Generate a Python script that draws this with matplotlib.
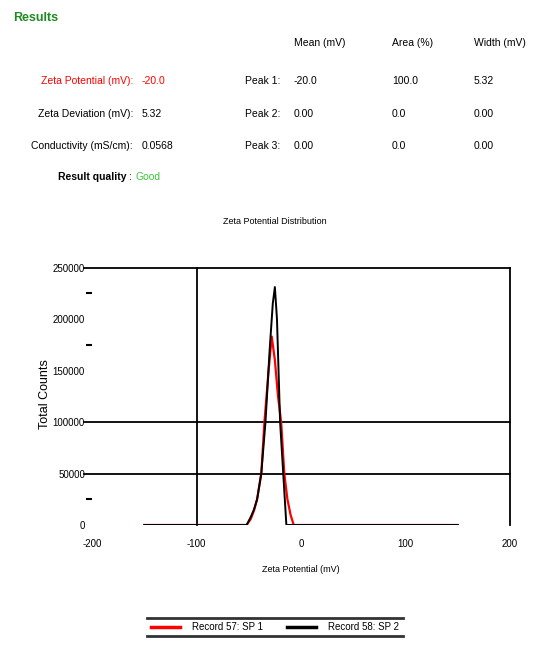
import numpy as np
import matplotlib.pyplot as plt
from matplotlib.lines import Line2D

plt.rcParams['font.family'] = ['Liberation Sans', 'DejaVu Sans']

# summary values
summary_labels = ["Zeta Potential (mV):", "Zeta Deviation (mV):", "Conductivity (mS/cm):"]
summary_values = ["-20.0", "5.32", "0.0568"]
quality = "Good"

peak_names = ["Peak 1:", "Peak 2:", "Peak 3:"]
peak_mean = ["-20.0", "0.00", "0.00"]
peak_area = ["100.0", "0.0", "0.0"]
peak_width = ["5.32", "0.00", "0.00"]
col_heads = ["Mean (mV)", "Area (%)", "Width (mV)"]

# distribution curves
rec1_name = "Record 57: SP 1"
rec1_x = [-150, -52, -48, -45, -42, -38, -35, -31, -28, -25, -22, -19, -16, -13, -10, -7, 150]
rec1_y = [0, 0, 6000, 14000, 25000, 50000, 100000, 150000, 183000, 160000, 125000,
          100000, 50000, 25000, 10000, 0, 0]

rec2_name = "Record 58: SP 2"
rec2_x = [-150, -52, -48, -45, -42, -38, -34, -30, -27, -25, -23, -20, -17, -14, 150]
rec2_y = [0, 0, 8000, 15000, 25000, 50000, 100000, 170000, 215000, 231000, 200000,
          100000, 50000, 0, 0]

x_ticks = [-200, -100, 0, 100, 200]
y_ticks = [0, 50000, 100000, 150000, 200000, 250000]

W, H = 547, 648
fig = plt.figure(figsize=(W / 100, H / 100), dpi=100)

def px(x, y):
    return x / W, 1 - y / H

fs = 7.5
fig.text(*px(13, 18), "Results", color="#1f8a1f", fontsize=9, fontweight="bold", va="center")

hx = [294, 392, 474]
for x, t in zip(hx, col_heads):
    fig.text(*px(x, 43), t, fontsize=fs, va="center")

rows_y = [81, 114, 146]
for i, y in enumerate(rows_y):
    c = "red" if i == 0 else "black"
    fig.text(*px(133, y), summary_labels[i], fontsize=fs, color=c, ha="right", va="center")
    fig.text(*px(142, y), summary_values[i], fontsize=fs, color=c, va="center")
    fig.text(*px(280, y), peak_names[i], fontsize=fs, ha="right", va="center")
    fig.text(*px(hx[0], y), peak_mean[i], fontsize=fs, va="center")
    fig.text(*px(hx[1], y), peak_area[i], fontsize=fs, va="center")
    fig.text(*px(hx[2], y), peak_width[i], fontsize=fs, va="center")

fig.text(*px(126, 177), "Result quality", fontsize=fs, fontweight="bold", ha="right", va="center")
fig.text(*px(129, 177), ":", fontsize=fs, va="center")
fig.text(*px(136, 177), quality, fontsize=fs, color="#3cc43c", va="center")

fig.text(*px(275, 222), "Zeta Potential Distribution", fontsize=6.5, ha="center", va="center")

ax = fig.add_axes([92 / W, 1 - 525 / H, (510 - 92) / W, (525 - 267.5) / H])
ax.set_xlim(-200, 200)
ax.set_ylim(0, 250000)
for s in ax.spines.values():
    s.set_visible(False)

# grid lines that show in the report
for yv in [50000, 100000, 250000]:
    ax.plot([-208, 200], [yv, yv], color="black", lw=1.3, clip_on=False)
for xv in [-100, 200]:
    ax.plot([xv, xv], [0, 250000], color="black", lw=1.3, clip_on=False)

ax.plot(rec1_x, rec1_y, color="red", lw=1.6, label=rec1_name)
ax.plot(rec2_x, rec2_y, color="black", lw=1.4, label=rec2_name)

ax.set_xticks(x_ticks)
ax.set_xticklabels([str(v) for v in x_ticks])
ax.set_yticks(y_ticks)
ax.set_yticklabels([str(v) for v in y_ticks])
ax.set_yticks([25000, 175000, 225000], minor=True)
ax.tick_params(axis="both", which="major", length=0, labelsize=7)
ax.tick_params(axis="x", which="major", pad=10)
ax.tick_params(axis="y", which="major", pad=5)
ax.tick_params(axis="y", which="minor", length=4, width=1.5, direction="out")

ax.set_xlabel("Zeta Potential (mV)", fontsize=6.5)
ax.xaxis.set_label_coords(0.5, -(565 - 525) / 257.5)
ax.set_ylabel("Total Counts", fontsize=9, va="center")
ax.yaxis.set_label_coords(-(92 - 45) / 418, (525 - 394) / 257.5)

leg = fig.legend(loc="center", bbox_to_anchor=px(275, 627),
                 ncol=2, frameon=False, fontsize=7, handlelength=3, columnspacing=2.5,
                 handletextpad=1.2)
for l in leg.get_lines():
    l.set_linewidth(2.5)

fig.canvas.draw()
bb = leg.get_window_extent().transformed(fig.transFigure.inverted())
for yy in [bb.y0, bb.y1]:
    fig.add_artist(Line2D([bb.x0, bb.x1], [yy, yy], transform=fig.transFigure,
                          color="#333333", lw=2))

fig.savefig("out.png", dpi=100)
